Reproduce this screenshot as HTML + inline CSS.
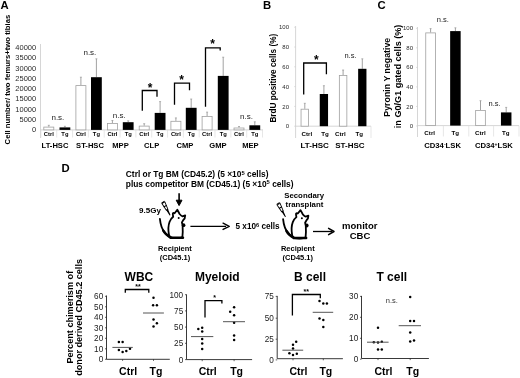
<!DOCTYPE html>
<html><head><meta charset="utf-8"><style>
html,body{margin:0;padding:0;background:#fff;}
body{width:520px;height:378px;overflow:hidden;}
svg{display:block;font-family:"Liberation Sans", sans-serif;filter:blur(0.3px);}
</style></head><body>
<svg width="520" height="378" viewBox="0 0 520 378" font-family='"Liberation Sans", sans-serif'>
<rect width="520" height="378" fill="#fff"/>
<text x="0.60" y="9.10" font-size="11.3" font-weight="bold" text-anchor="start" fill="#000" >A</text>
<text x="262.90" y="9.30" font-size="11.3" font-weight="bold" text-anchor="start" fill="#000" >B</text>
<text x="377.40" y="9.10" font-size="11.3" font-weight="bold" text-anchor="start" fill="#000" >C</text>
<text x="61.60" y="172.10" font-size="11.3" font-weight="bold" text-anchor="start" fill="#000" >D</text>
<line x1="40.50" y1="44.00" x2="40.50" y2="138.00" stroke="#cccccc" stroke-width="0.8"/>
<line x1="40.50" y1="129.90" x2="263.00" y2="129.90" stroke="#cccccc" stroke-width="0.8"/>
<text x="36.20" y="132.30" font-size="7.5" text-anchor="end" fill="#2a2a2a" >0</text>
<text x="36.20" y="122.01" font-size="7.5" text-anchor="end" fill="#2a2a2a" >5000</text>
<text x="36.20" y="111.72" font-size="7.5" text-anchor="end" fill="#2a2a2a" >10000</text>
<text x="36.20" y="101.43" font-size="7.5" text-anchor="end" fill="#2a2a2a" >15000</text>
<text x="36.20" y="91.14" font-size="7.5" text-anchor="end" fill="#2a2a2a" >20000</text>
<text x="36.20" y="80.85" font-size="7.5" text-anchor="end" fill="#2a2a2a" >25000</text>
<text x="36.20" y="70.56" font-size="7.5" text-anchor="end" fill="#2a2a2a" >30000</text>
<text x="36.20" y="60.27" font-size="7.5" text-anchor="end" fill="#2a2a2a" >35000</text>
<text x="36.20" y="49.98" font-size="7.5" text-anchor="end" fill="#2a2a2a" >40000</text>
<line x1="48.80" y1="125.30" x2="48.80" y2="126.70" stroke="#8a8a8a" stroke-width="0.8"/>
<line x1="47.80" y1="125.30" x2="49.80" y2="125.30" stroke="#8a8a8a" stroke-width="0.6"/>
<rect x="43.80" y="127.10" width="10.00" height="2.80" fill="#fff" stroke="#a0a0a0" stroke-width="0.8"/>
<line x1="64.90" y1="126.30" x2="64.90" y2="127.40" stroke="#8a8a8a" stroke-width="0.8"/>
<line x1="63.90" y1="126.30" x2="65.90" y2="126.30" stroke="#8a8a8a" stroke-width="0.6"/>
<rect x="59.50" y="127.40" width="10.80" height="2.50" fill="#000" stroke="none" stroke-width="1"/>
<line x1="80.90" y1="77.20" x2="80.90" y2="85.20" stroke="#8a8a8a" stroke-width="0.8"/>
<line x1="79.90" y1="77.20" x2="81.90" y2="77.20" stroke="#8a8a8a" stroke-width="0.6"/>
<rect x="75.90" y="85.60" width="10.00" height="44.30" fill="#fff" stroke="#a0a0a0" stroke-width="0.8"/>
<line x1="96.40" y1="58.80" x2="96.40" y2="77.20" stroke="#8a8a8a" stroke-width="0.8"/>
<line x1="95.40" y1="58.80" x2="97.40" y2="58.80" stroke="#8a8a8a" stroke-width="0.6"/>
<rect x="91.00" y="77.20" width="10.80" height="52.70" fill="#000" stroke="none" stroke-width="1"/>
<line x1="112.40" y1="120.50" x2="112.40" y2="123.10" stroke="#8a8a8a" stroke-width="0.8"/>
<line x1="111.40" y1="120.50" x2="113.40" y2="120.50" stroke="#8a8a8a" stroke-width="0.6"/>
<rect x="107.40" y="123.50" width="10.00" height="6.40" fill="#fff" stroke="#a0a0a0" stroke-width="0.8"/>
<line x1="128.20" y1="120.80" x2="128.20" y2="122.20" stroke="#8a8a8a" stroke-width="0.8"/>
<line x1="127.20" y1="120.80" x2="129.20" y2="120.80" stroke="#8a8a8a" stroke-width="0.6"/>
<rect x="122.80" y="122.20" width="10.80" height="7.70" fill="#000" stroke="none" stroke-width="1"/>
<line x1="144.20" y1="123.70" x2="144.20" y2="125.70" stroke="#8a8a8a" stroke-width="0.8"/>
<line x1="143.20" y1="123.70" x2="145.20" y2="123.70" stroke="#8a8a8a" stroke-width="0.6"/>
<rect x="139.20" y="126.10" width="10.00" height="3.80" fill="#fff" stroke="#a0a0a0" stroke-width="0.8"/>
<line x1="160.10" y1="101.60" x2="160.10" y2="112.90" stroke="#8a8a8a" stroke-width="0.8"/>
<line x1="159.10" y1="101.60" x2="161.10" y2="101.60" stroke="#8a8a8a" stroke-width="0.6"/>
<rect x="154.70" y="112.90" width="10.80" height="17.00" fill="#000" stroke="none" stroke-width="1"/>
<line x1="175.90" y1="117.90" x2="175.90" y2="120.90" stroke="#8a8a8a" stroke-width="0.8"/>
<line x1="174.90" y1="117.90" x2="176.90" y2="117.90" stroke="#8a8a8a" stroke-width="0.6"/>
<rect x="170.90" y="121.30" width="10.00" height="8.60" fill="#fff" stroke="#a0a0a0" stroke-width="0.8"/>
<line x1="191.20" y1="99.00" x2="191.20" y2="107.80" stroke="#8a8a8a" stroke-width="0.8"/>
<line x1="190.20" y1="99.00" x2="192.20" y2="99.00" stroke="#8a8a8a" stroke-width="0.6"/>
<rect x="185.80" y="107.80" width="10.80" height="22.10" fill="#000" stroke="none" stroke-width="1"/>
<line x1="207.10" y1="112.10" x2="207.10" y2="116.00" stroke="#8a8a8a" stroke-width="0.8"/>
<line x1="206.10" y1="112.10" x2="208.10" y2="112.10" stroke="#8a8a8a" stroke-width="0.6"/>
<rect x="202.10" y="116.40" width="10.00" height="13.50" fill="#fff" stroke="#a0a0a0" stroke-width="0.8"/>
<line x1="223.20" y1="57.20" x2="223.20" y2="75.90" stroke="#8a8a8a" stroke-width="0.8"/>
<line x1="222.20" y1="57.20" x2="224.20" y2="57.20" stroke="#8a8a8a" stroke-width="0.6"/>
<rect x="217.80" y="75.90" width="10.80" height="54.00" fill="#000" stroke="none" stroke-width="1"/>
<line x1="239.00" y1="126.50" x2="239.00" y2="127.60" stroke="#8a8a8a" stroke-width="0.8"/>
<line x1="238.00" y1="126.50" x2="240.00" y2="126.50" stroke="#8a8a8a" stroke-width="0.6"/>
<rect x="234.00" y="128.00" width="10.00" height="1.90" fill="#fff" stroke="#a0a0a0" stroke-width="0.8"/>
<line x1="254.80" y1="121.80" x2="254.80" y2="125.30" stroke="#8a8a8a" stroke-width="0.8"/>
<line x1="253.80" y1="121.80" x2="255.80" y2="121.80" stroke="#8a8a8a" stroke-width="0.6"/>
<rect x="249.40" y="125.30" width="10.80" height="4.60" fill="#000" stroke="none" stroke-width="1"/>
<line x1="40.90" y1="129.90" x2="40.90" y2="137.50" stroke="#dcdcdc" stroke-width="0.7"/>
<line x1="56.73" y1="129.90" x2="56.73" y2="137.50" stroke="#dcdcdc" stroke-width="0.7"/>
<line x1="72.56" y1="129.90" x2="72.56" y2="137.50" stroke="#dcdcdc" stroke-width="0.7"/>
<line x1="88.39" y1="129.90" x2="88.39" y2="137.50" stroke="#dcdcdc" stroke-width="0.7"/>
<line x1="104.22" y1="129.90" x2="104.22" y2="137.50" stroke="#dcdcdc" stroke-width="0.7"/>
<line x1="120.05" y1="129.90" x2="120.05" y2="137.50" stroke="#dcdcdc" stroke-width="0.7"/>
<line x1="135.88" y1="129.90" x2="135.88" y2="137.50" stroke="#dcdcdc" stroke-width="0.7"/>
<line x1="151.71" y1="129.90" x2="151.71" y2="137.50" stroke="#dcdcdc" stroke-width="0.7"/>
<line x1="167.54" y1="129.90" x2="167.54" y2="137.50" stroke="#dcdcdc" stroke-width="0.7"/>
<line x1="183.37" y1="129.90" x2="183.37" y2="137.50" stroke="#dcdcdc" stroke-width="0.7"/>
<line x1="199.20" y1="129.90" x2="199.20" y2="137.50" stroke="#dcdcdc" stroke-width="0.7"/>
<line x1="215.03" y1="129.90" x2="215.03" y2="137.50" stroke="#dcdcdc" stroke-width="0.7"/>
<line x1="230.86" y1="129.90" x2="230.86" y2="137.50" stroke="#dcdcdc" stroke-width="0.7"/>
<line x1="246.69" y1="129.90" x2="246.69" y2="137.50" stroke="#dcdcdc" stroke-width="0.7"/>
<line x1="262.52" y1="129.90" x2="262.52" y2="137.50" stroke="#dcdcdc" stroke-width="0.7"/>
<text x="48.80" y="136.30" font-size="5.8" font-weight="bold" text-anchor="middle" fill="#000" >Ctrl</text>
<text x="64.90" y="136.30" font-size="5.8" font-weight="bold" text-anchor="middle" fill="#000" >Tg</text>
<text x="80.90" y="136.30" font-size="5.8" font-weight="bold" text-anchor="middle" fill="#000" >Ctrl</text>
<text x="96.40" y="136.30" font-size="5.8" font-weight="bold" text-anchor="middle" fill="#000" >Tg</text>
<text x="112.40" y="136.30" font-size="5.8" font-weight="bold" text-anchor="middle" fill="#000" >Ctrl</text>
<text x="128.20" y="136.30" font-size="5.8" font-weight="bold" text-anchor="middle" fill="#000" >Tg</text>
<text x="144.20" y="136.30" font-size="5.8" font-weight="bold" text-anchor="middle" fill="#000" >Ctrl</text>
<text x="160.10" y="136.30" font-size="5.8" font-weight="bold" text-anchor="middle" fill="#000" >Tg</text>
<text x="175.90" y="136.30" font-size="5.8" font-weight="bold" text-anchor="middle" fill="#000" >Ctrl</text>
<text x="191.20" y="136.30" font-size="5.8" font-weight="bold" text-anchor="middle" fill="#000" >Tg</text>
<text x="207.10" y="136.30" font-size="5.8" font-weight="bold" text-anchor="middle" fill="#000" >Ctrl</text>
<text x="223.20" y="136.30" font-size="5.8" font-weight="bold" text-anchor="middle" fill="#000" >Tg</text>
<text x="239.00" y="136.30" font-size="5.8" font-weight="bold" text-anchor="middle" fill="#000" >Ctrl</text>
<text x="254.80" y="136.30" font-size="5.8" font-weight="bold" text-anchor="middle" fill="#000" >Tg</text>
<text x="55.00" y="147.90" font-size="7.6" font-weight="bold" text-anchor="middle" fill="#000" >LT-HSC</text>
<text x="90.00" y="147.90" font-size="7.6" font-weight="bold" text-anchor="middle" fill="#000" >ST-HSC</text>
<text x="120.50" y="147.90" font-size="7.6" font-weight="bold" text-anchor="middle" fill="#000" >MPP</text>
<text x="151.70" y="147.90" font-size="7.6" font-weight="bold" text-anchor="middle" fill="#000" >CLP</text>
<text x="185.00" y="147.90" font-size="7.6" font-weight="bold" text-anchor="middle" fill="#000" >CMP</text>
<text x="217.90" y="147.90" font-size="7.6" font-weight="bold" text-anchor="middle" fill="#000" >GMP</text>
<text x="250.40" y="147.90" font-size="7.6" font-weight="bold" text-anchor="middle" fill="#000" >MEP</text>
<text x="57.90" y="119.60" font-size="8" text-anchor="middle" fill="#222" >n.s.</text>
<text x="89.90" y="55.30" font-size="8" text-anchor="middle" fill="#222" >n.s.</text>
<text x="119.20" y="117.60" font-size="8" text-anchor="middle" fill="#222" >n.s.</text>
<text x="246.50" y="119.20" font-size="8" text-anchor="middle" fill="#222" >n.s.</text>
<path d="M142.3,110.8 L142.3,90.5 L157.0,90.5 L157.0,96.8" stroke="#000" stroke-width="1.3" fill="none" />
<path d="M174.5,104.8 L174.5,83.2 L189.5,83.2 L189.5,90.3" stroke="#000" stroke-width="1.3" fill="none" />
<path d="M205.5,106.8 L205.5,47.8 L220.2,47.8 L220.2,50.4" stroke="#000" stroke-width="1.3" fill="none" />
<text x="150.00" y="92.40" font-size="12" font-weight="bold" text-anchor="middle" fill="#000" >*</text>
<text x="181.50" y="84.40" font-size="12" font-weight="bold" text-anchor="middle" fill="#000" >*</text>
<text x="212.50" y="47.80" font-size="12" font-weight="bold" text-anchor="middle" fill="#000" >*</text>
<text transform="translate(10.3,79.6) rotate(-90)" font-size="7.7" font-weight="bold" text-anchor="middle" fill="#000">Cell number/ two femurs+two tibias</text>
<line x1="295.60" y1="26.00" x2="295.60" y2="138.00" stroke="#cccccc" stroke-width="0.8"/>
<line x1="295.60" y1="126.20" x2="371.00" y2="126.20" stroke="#cccccc" stroke-width="0.8"/>
<line x1="371.00" y1="126.20" x2="371.00" y2="138.00" stroke="#dcdcdc" stroke-width="0.7"/>
<text x="289.00" y="128.30" font-size="6.0" text-anchor="end" fill="#2a2a2a" >0</text>
<line x1="294.10" y1="126.20" x2="295.60" y2="126.20" stroke="#cccccc" stroke-width="0.6"/>
<text x="289.00" y="108.50" font-size="6.0" text-anchor="end" fill="#2a2a2a" >20</text>
<line x1="294.10" y1="106.40" x2="295.60" y2="106.40" stroke="#cccccc" stroke-width="0.6"/>
<text x="289.00" y="88.70" font-size="6.0" text-anchor="end" fill="#2a2a2a" >40</text>
<line x1="294.10" y1="86.60" x2="295.60" y2="86.60" stroke="#cccccc" stroke-width="0.6"/>
<text x="289.00" y="68.90" font-size="6.0" text-anchor="end" fill="#2a2a2a" >60</text>
<line x1="294.10" y1="66.80" x2="295.60" y2="66.80" stroke="#cccccc" stroke-width="0.6"/>
<text x="289.00" y="49.10" font-size="6.0" text-anchor="end" fill="#2a2a2a" >80</text>
<line x1="294.10" y1="47.00" x2="295.60" y2="47.00" stroke="#cccccc" stroke-width="0.6"/>
<text x="289.00" y="29.30" font-size="6.0" text-anchor="end" fill="#2a2a2a" >100</text>
<line x1="294.10" y1="27.20" x2="295.60" y2="27.20" stroke="#cccccc" stroke-width="0.6"/>
<line x1="304.80" y1="103.30" x2="304.80" y2="108.80" stroke="#8a8a8a" stroke-width="0.8"/>
<line x1="303.80" y1="103.30" x2="305.80" y2="103.30" stroke="#8a8a8a" stroke-width="0.6"/>
<rect x="301.05" y="109.20" width="7.50" height="17.00" fill="#fff" stroke="#a0a0a0" stroke-width="0.8"/>
<line x1="323.90" y1="85.70" x2="323.90" y2="94.00" stroke="#8a8a8a" stroke-width="0.8"/>
<line x1="322.90" y1="85.70" x2="324.90" y2="85.70" stroke="#8a8a8a" stroke-width="0.6"/>
<rect x="319.75" y="94.00" width="8.30" height="32.20" fill="#000" stroke="none" stroke-width="1"/>
<line x1="343.10" y1="70.00" x2="343.10" y2="75.00" stroke="#8a8a8a" stroke-width="0.8"/>
<line x1="342.10" y1="70.00" x2="344.10" y2="70.00" stroke="#8a8a8a" stroke-width="0.6"/>
<rect x="339.35" y="75.40" width="7.50" height="50.80" fill="#fff" stroke="#a0a0a0" stroke-width="0.8"/>
<line x1="362.30" y1="58.80" x2="362.30" y2="68.80" stroke="#8a8a8a" stroke-width="0.8"/>
<line x1="361.30" y1="58.80" x2="363.30" y2="58.80" stroke="#8a8a8a" stroke-width="0.6"/>
<rect x="358.15" y="68.80" width="8.30" height="57.40" fill="#000" stroke="none" stroke-width="1"/>
<text x="306.80" y="136.10" font-size="6.2" font-weight="bold" text-anchor="middle" fill="#000" >Ctrl</text>
<text x="325.10" y="136.10" font-size="6.2" font-weight="bold" text-anchor="middle" fill="#000" >Tg</text>
<text x="340.30" y="136.10" font-size="6.2" font-weight="bold" text-anchor="middle" fill="#000" >Ctrl</text>
<text x="359.30" y="136.10" font-size="6.2" font-weight="bold" text-anchor="middle" fill="#000" >Tg</text>
<text x="314.70" y="147.70" font-size="8.0" font-weight="bold" text-anchor="middle" fill="#000" >LT-HSC</text>
<text x="349.90" y="147.70" font-size="8.0" font-weight="bold" text-anchor="middle" fill="#000" >ST-HSC</text>
<path d="M303.7,94.5 L303.7,63 L326.4,63 L326.4,74.3" stroke="#000" stroke-width="1.3" fill="none" />
<text x="316.40" y="63.50" font-size="12" font-weight="bold" text-anchor="middle" fill="#000" >*</text>
<text x="350.50" y="58.20" font-size="7.5" text-anchor="middle" fill="#222" >n.s.</text>
<text transform="translate(275.6,78.2) rotate(-90)" font-size="8.2" font-weight="bold" text-anchor="middle" fill="#000">BrdU positive cells (%)</text>
<line x1="417.50" y1="27.00" x2="417.50" y2="137.00" stroke="#cccccc" stroke-width="0.8"/>
<line x1="417.50" y1="125.60" x2="519.00" y2="125.60" stroke="#cccccc" stroke-width="0.8"/>
<line x1="443.40" y1="125.60" x2="443.40" y2="136.50" stroke="#dcdcdc" stroke-width="0.7"/>
<line x1="468.80" y1="125.60" x2="468.80" y2="136.50" stroke="#dcdcdc" stroke-width="0.7"/>
<line x1="493.60" y1="125.60" x2="493.60" y2="136.50" stroke="#dcdcdc" stroke-width="0.7"/>
<line x1="519.00" y1="125.60" x2="519.00" y2="136.50" stroke="#dcdcdc" stroke-width="0.7"/>
<text x="413.00" y="128.10" font-size="6.0" text-anchor="end" fill="#2a2a2a" >0</text>
<line x1="416.00" y1="126.00" x2="417.50" y2="126.00" stroke="#cccccc" stroke-width="0.6"/>
<text x="413.00" y="108.56" font-size="6.0" text-anchor="end" fill="#2a2a2a" >20</text>
<line x1="416.00" y1="106.46" x2="417.50" y2="106.46" stroke="#cccccc" stroke-width="0.6"/>
<text x="413.00" y="89.02" font-size="6.0" text-anchor="end" fill="#2a2a2a" >40</text>
<line x1="416.00" y1="86.92" x2="417.50" y2="86.92" stroke="#cccccc" stroke-width="0.6"/>
<text x="413.00" y="69.48" font-size="6.0" text-anchor="end" fill="#2a2a2a" >60</text>
<line x1="416.00" y1="67.38" x2="417.50" y2="67.38" stroke="#cccccc" stroke-width="0.6"/>
<text x="413.00" y="49.94" font-size="6.0" text-anchor="end" fill="#2a2a2a" >80</text>
<line x1="416.00" y1="47.84" x2="417.50" y2="47.84" stroke="#cccccc" stroke-width="0.6"/>
<text x="413.00" y="30.40" font-size="6.0" text-anchor="end" fill="#2a2a2a" >100</text>
<line x1="416.00" y1="28.30" x2="417.50" y2="28.30" stroke="#cccccc" stroke-width="0.6"/>
<line x1="430.60" y1="28.60" x2="430.60" y2="32.50" stroke="#8a8a8a" stroke-width="0.8"/>
<line x1="429.60" y1="28.60" x2="431.60" y2="28.60" stroke="#8a8a8a" stroke-width="0.6"/>
<rect x="425.75" y="32.90" width="9.70" height="92.70" fill="#fff" stroke="#a0a0a0" stroke-width="0.8"/>
<line x1="455.40" y1="27.80" x2="455.40" y2="31.10" stroke="#8a8a8a" stroke-width="0.8"/>
<line x1="454.40" y1="27.80" x2="456.40" y2="27.80" stroke="#8a8a8a" stroke-width="0.6"/>
<rect x="450.15" y="31.10" width="10.50" height="94.50" fill="#000" stroke="none" stroke-width="1"/>
<line x1="480.50" y1="100.70" x2="480.50" y2="110.00" stroke="#8a8a8a" stroke-width="0.8"/>
<line x1="479.50" y1="100.70" x2="481.50" y2="100.70" stroke="#8a8a8a" stroke-width="0.6"/>
<rect x="475.65" y="110.40" width="9.70" height="15.20" fill="#fff" stroke="#a0a0a0" stroke-width="0.8"/>
<line x1="506.20" y1="107.40" x2="506.20" y2="112.40" stroke="#8a8a8a" stroke-width="0.8"/>
<line x1="505.20" y1="107.40" x2="507.20" y2="107.40" stroke="#8a8a8a" stroke-width="0.6"/>
<rect x="500.95" y="112.40" width="10.50" height="13.20" fill="#000" stroke="none" stroke-width="1"/>
<text x="429.70" y="135.20" font-size="6.2" font-weight="bold" text-anchor="middle" fill="#000" >Ctrl</text>
<text x="455.20" y="135.20" font-size="6.2" font-weight="bold" text-anchor="middle" fill="#000" >Tg</text>
<text x="480.40" y="135.20" font-size="6.2" font-weight="bold" text-anchor="middle" fill="#000" >Ctrl</text>
<text x="505.70" y="135.20" font-size="6.2" font-weight="bold" text-anchor="middle" fill="#000" >Tg</text>
<text x="442.60" y="148.40" font-size="7.7" font-weight="bold" text-anchor="middle" fill="#000" >CD34<tspan font-size="5" dy="-2.2">-</tspan><tspan dy="2.2">LSK</tspan></text>
<text x="493.90" y="148.40" font-size="7.7" font-weight="bold" text-anchor="middle" fill="#000" >CD34<tspan font-size="5" dy="-2.2">+</tspan><tspan dy="2.2">LSK</tspan></text>
<text x="442.90" y="22.20" font-size="7.5" text-anchor="middle" fill="#222" >n.s.</text>
<text x="494.60" y="105.60" font-size="7.5" text-anchor="middle" fill="#222" >n.s.</text>
<text transform="translate(390.3,77.2) rotate(-90)" font-size="8.8" font-weight="bold" text-anchor="middle" fill="#000">Pyronin Y negative</text>
<text transform="translate(401.2,76.4) rotate(-90)" font-size="9.1" font-weight="bold" text-anchor="middle" fill="#000">in G0/G1 gated cells (%)</text>
<text x="125.80" y="177.30" font-size="8.4" font-weight="bold" text-anchor="start" fill="#000" >Ctrl or Tg BM (CD45.2) (5 ×10<tspan font-size="5.8" dy="-2.6">5</tspan><tspan dy="2.6"> cells)</tspan></text>
<text x="125.80" y="186.90" font-size="8.4" font-weight="bold" text-anchor="start" fill="#000" >plus competitor BM (CD45.1) (5 ×10<tspan font-size="5.8" dy="-2.6">5</tspan><tspan dy="2.6"> cells)</tspan></text>
<text x="150.00" y="212.60" font-size="8" font-weight="bold" text-anchor="middle" fill="#000" >9.5Gy</text>
<text x="304.20" y="197.90" font-size="7.8" font-weight="bold" text-anchor="middle" fill="#000" >Secondary</text>
<text x="304.40" y="206.60" font-size="7.8" font-weight="bold" text-anchor="middle" fill="#000" >transplant</text>
<text x="257.60" y="229.10" font-size="8.2" font-weight="bold" text-anchor="middle" fill="#000" >5 x10<tspan font-size="5.6" dy="-2.4">6</tspan><tspan dy="2.4"> cells</tspan></text>
<text x="359.80" y="229.00" font-size="9.5" font-weight="bold" text-anchor="middle" fill="#000" >monitor</text>
<text x="360.00" y="238.80" font-size="9.5" font-weight="bold" text-anchor="middle" fill="#000" >CBC</text>
<text x="175.00" y="250.90" font-size="7.5" font-weight="bold" text-anchor="middle" fill="#000" >Recipient</text>
<text x="175.00" y="259.60" font-size="7.5" font-weight="bold" text-anchor="middle" fill="#000" >(CD45.1)</text>
<text x="297.80" y="250.90" font-size="7.5" font-weight="bold" text-anchor="middle" fill="#000" >Recipient</text>
<text x="297.80" y="259.60" font-size="7.5" font-weight="bold" text-anchor="middle" fill="#000" >(CD45.1)</text>
<path d="M179.1,193.3 L179.1,202" stroke="#000" stroke-width="1.6" fill="none" />
<path d="M176.2,200.2 L179.1,205.6 L182,200.2 Z" stroke="#000" stroke-width="1.0" fill="#000" stroke-linejoin="round"/>
<path d="M190.4,226.3 L226,226.3" stroke="#000" stroke-width="1.3" fill="none" />
<path d="M223.1,223.2 L229.2,226.3 L223.1,229.4" stroke="#000" stroke-width="1.5" fill="none" stroke-linejoin="round" stroke-linecap="round"/>
<path d="M313,231.5 L332,231.5" stroke="#000" stroke-width="1.3" fill="none" />
<path d="M328.6,228.4 L334,231.5 L328.6,234.6" stroke="#000" stroke-width="1.5" fill="none" stroke-linejoin="round" stroke-linecap="round"/>
<g transform="translate(0,0)" fill="none" stroke="#000" stroke-linecap="round" stroke-linejoin="round">
<path d="M159.9,218.9 C160.4,224 162,229.5 165,232.8 C166.5,234.5 168.3,236 170.5,237.4" stroke-width="1.8"/>
<path d="M163.2,230.5 C164.5,233 166.5,235.2 170.5,237.6" stroke-width="2.5"/>
<path d="M182.4,236.8 C181.5,238.2 177,238.3 173.5,238.1 C170.8,237.9 169.3,236.6 168.9,234.5 C168.2,230.5 168.2,225.5 169.6,221.8 C170.4,219.6 171.6,218 173.2,216.8 L172.8,214.2 C172.6,213 173.6,212.4 174.6,213.2 L177.3,209.8 L179.6,214.0 C180.6,215.2 181.6,216.2 182.5,216.4 L185.2,215.4 C185.2,217.4 184.5,219 183.3,220 L181.9,222.4 C182.1,223.5 182.4,224.5 182.6,225.5 C182.8,229 182.9,233 182.4,236.8 Z" stroke-width="1.8"/>
<ellipse cx="183.6" cy="225.2" rx="1.8" ry="1.9" fill="#000" stroke="none"/>
<circle cx="178.7" cy="218" r="1.0" fill="#000" stroke="none"/>
<path d="M171,237.7 L183,237.7" stroke-width="2.4"/>
</g>
<g transform="translate(123.2,0.3)" fill="none" stroke="#000" stroke-linecap="round" stroke-linejoin="round">
<path d="M159.9,218.9 C160.4,224 162,229.5 165,232.8 C166.5,234.5 168.3,236 170.5,237.4" stroke-width="1.8"/>
<path d="M163.2,230.5 C164.5,233 166.5,235.2 170.5,237.6" stroke-width="2.5"/>
<path d="M182.4,236.8 C181.5,238.2 177,238.3 173.5,238.1 C170.8,237.9 169.3,236.6 168.9,234.5 C168.2,230.5 168.2,225.5 169.6,221.8 C170.4,219.6 171.6,218 173.2,216.8 L172.8,214.2 C172.6,213 173.6,212.4 174.6,213.2 L177.3,209.8 L179.6,214.0 C180.6,215.2 181.6,216.2 182.5,216.4 L185.2,215.4 C185.2,217.4 184.5,219 183.3,220 L181.9,222.4 C182.1,223.5 182.4,224.5 182.6,225.5 C182.8,229 182.9,233 182.4,236.8 Z" stroke-width="1.8"/>
<ellipse cx="183.6" cy="225.2" rx="1.8" ry="1.9" fill="#000" stroke="none"/>
<circle cx="178.7" cy="218" r="1.0" fill="#000" stroke="none"/>
<path d="M171,237.7 L183,237.7" stroke-width="2.4"/>
</g>
<g transform="translate(163.0,202.0) rotate(61.86)" fill="none" stroke="#000" stroke-width="0.9" stroke-linecap="round" stroke-linejoin="round">
<path d="M0,-1.4 L0.2,1.4 M0.1,0 L0.8,0"/>
<path d="M0.8,-1.7 L8.78,-0.9 L8.78,0.9 L0.8,1.7 Z" fill="#fff"/>
<path d="M4.68,-1.3 L4.68,1.3"/>
<path d="M8.78,-0.5 L14.63,0 L8.78,0.5" stroke-width="1.0" fill="#000"/>
</g>
<g transform="translate(278.2,203.4) rotate(61.73)" fill="none" stroke="#000" stroke-width="0.9" stroke-linecap="round" stroke-linejoin="round">
<path d="M0,-1.4 L0.2,1.4 M0.1,0 L0.8,0"/>
<path d="M0.8,-1.7 L8.99,-0.9 L8.99,0.9 L0.8,1.7 Z" fill="#fff"/>
<path d="M4.80,-1.3 L4.80,1.3"/>
<path d="M8.99,-0.5 L14.99,0 L8.99,0.5" stroke-width="1.0" fill="#000"/>
</g>
<line x1="106.50" y1="295.50" x2="106.50" y2="359.30" stroke="#222" stroke-width="0.9"/>
<line x1="106.50" y1="359.30" x2="169.80" y2="359.30" stroke="#222" stroke-width="0.9"/>
<text x="103.20" y="362.25" font-size="8.2" text-anchor="end" fill="#1a1a1a" >0</text>
<line x1="105.00" y1="359.30" x2="106.50" y2="359.30" stroke="#222" stroke-width="0.7"/>
<text x="103.20" y="351.75" font-size="8.2" text-anchor="end" fill="#1a1a1a" >10</text>
<line x1="105.00" y1="348.80" x2="106.50" y2="348.80" stroke="#222" stroke-width="0.7"/>
<text x="103.20" y="341.25" font-size="8.2" text-anchor="end" fill="#1a1a1a" >20</text>
<line x1="105.00" y1="338.30" x2="106.50" y2="338.30" stroke="#222" stroke-width="0.7"/>
<text x="103.20" y="330.75" font-size="8.2" text-anchor="end" fill="#1a1a1a" >30</text>
<line x1="105.00" y1="327.80" x2="106.50" y2="327.80" stroke="#222" stroke-width="0.7"/>
<text x="103.20" y="320.25" font-size="8.2" text-anchor="end" fill="#1a1a1a" >40</text>
<line x1="105.00" y1="317.30" x2="106.50" y2="317.30" stroke="#222" stroke-width="0.7"/>
<text x="103.20" y="309.75" font-size="8.2" text-anchor="end" fill="#1a1a1a" >50</text>
<line x1="105.00" y1="306.80" x2="106.50" y2="306.80" stroke="#222" stroke-width="0.7"/>
<text x="103.20" y="299.25" font-size="8.2" text-anchor="end" fill="#1a1a1a" >60</text>
<line x1="105.00" y1="296.30" x2="106.50" y2="296.30" stroke="#222" stroke-width="0.7"/>
<text x="138.90" y="281.40" font-size="12" font-weight="bold" text-anchor="middle" fill="#000" >WBC</text>
<circle cx="118.90" cy="341.90" r="1.25" fill="#000"/>
<circle cx="122.60" cy="341.90" r="1.25" fill="#000"/>
<circle cx="118.90" cy="350.00" r="1.25" fill="#000"/>
<circle cx="122.60" cy="352.00" r="1.25" fill="#000"/>
<circle cx="126.30" cy="351.10" r="1.25" fill="#000"/>
<circle cx="130.00" cy="348.70" r="1.25" fill="#000"/>
<circle cx="153.50" cy="297.80" r="1.25" fill="#000"/>
<circle cx="153.10" cy="305.20" r="1.25" fill="#000"/>
<circle cx="156.90" cy="305.20" r="1.25" fill="#000"/>
<circle cx="153.50" cy="319.60" r="1.25" fill="#000"/>
<circle cx="156.90" cy="323.30" r="1.25" fill="#000"/>
<circle cx="153.50" cy="326.50" r="1.25" fill="#000"/>
<line x1="112.40" y1="347.40" x2="132.80" y2="347.40" stroke="#555" stroke-width="1.0"/>
<line x1="143.00" y1="313.00" x2="163.90" y2="313.00" stroke="#555" stroke-width="1.0"/>
<line x1="122.60" y1="359.30" x2="122.60" y2="360.90" stroke="#222" stroke-width="0.7"/>
<line x1="153.50" y1="359.30" x2="153.50" y2="360.90" stroke="#222" stroke-width="0.7"/>
<path d="M125.3,292.8 L125.3,289.5 L148.8,289.5 L148.8,292.8" stroke="#000" stroke-width="1.3" fill="none" />
<text x="137.90" y="288.80" font-size="7" font-weight="bold" text-anchor="middle" fill="#000" >**</text>
<text x="128.10" y="375.00" font-size="10.5" font-weight="bold" text-anchor="middle" fill="#000" >Ctrl</text>
<text x="156.00" y="375.00" font-size="10.5" font-weight="bold" text-anchor="middle" fill="#000" >Tg</text>
<line x1="186.50" y1="294.40" x2="186.50" y2="359.60" stroke="#222" stroke-width="0.9"/>
<line x1="186.50" y1="359.60" x2="252.10" y2="359.60" stroke="#222" stroke-width="0.9"/>
<text x="183.20" y="362.55" font-size="8.2" text-anchor="end" fill="#1a1a1a" >0</text>
<line x1="185.00" y1="359.60" x2="186.50" y2="359.60" stroke="#222" stroke-width="0.7"/>
<text x="183.20" y="346.25" font-size="8.2" text-anchor="end" fill="#1a1a1a" >25</text>
<line x1="185.00" y1="343.30" x2="186.50" y2="343.30" stroke="#222" stroke-width="0.7"/>
<text x="183.20" y="330.05" font-size="8.2" text-anchor="end" fill="#1a1a1a" >50</text>
<line x1="185.00" y1="327.10" x2="186.50" y2="327.10" stroke="#222" stroke-width="0.7"/>
<text x="183.20" y="313.85" font-size="8.2" text-anchor="end" fill="#1a1a1a" >75</text>
<line x1="185.00" y1="310.90" x2="186.50" y2="310.90" stroke="#222" stroke-width="0.7"/>
<text x="183.20" y="297.65" font-size="8.2" text-anchor="end" fill="#1a1a1a" >100</text>
<line x1="185.00" y1="294.70" x2="186.50" y2="294.70" stroke="#222" stroke-width="0.7"/>
<text x="217.30" y="281.40" font-size="12" font-weight="bold" text-anchor="middle" fill="#000" >Myeloid</text>
<circle cx="198.30" cy="329.00" r="1.25" fill="#000"/>
<circle cx="202.20" cy="327.70" r="1.25" fill="#000"/>
<circle cx="202.20" cy="331.60" r="1.25" fill="#000"/>
<circle cx="202.20" cy="339.10" r="1.25" fill="#000"/>
<circle cx="202.20" cy="343.50" r="1.25" fill="#000"/>
<circle cx="202.20" cy="349.00" r="1.25" fill="#000"/>
<circle cx="234.10" cy="307.20" r="1.25" fill="#000"/>
<circle cx="230.20" cy="311.80" r="1.25" fill="#000"/>
<circle cx="234.10" cy="315.20" r="1.25" fill="#000"/>
<circle cx="234.10" cy="322.70" r="1.25" fill="#000"/>
<circle cx="234.10" cy="335.60" r="1.25" fill="#000"/>
<circle cx="234.10" cy="339.90" r="1.25" fill="#000"/>
<line x1="191.00" y1="336.60" x2="213.30" y2="336.60" stroke="#555" stroke-width="1.0"/>
<line x1="223.00" y1="321.70" x2="245.00" y2="321.70" stroke="#555" stroke-width="1.0"/>
<line x1="202.20" y1="359.60" x2="202.20" y2="361.20" stroke="#222" stroke-width="0.7"/>
<line x1="234.10" y1="359.60" x2="234.10" y2="361.20" stroke="#222" stroke-width="0.7"/>
<path d="M205.0,317.6 L205.0,300.7 L221.9,300.7 L221.9,303.6" stroke="#000" stroke-width="1.3" fill="none" />
<text x="214.70" y="299.80" font-size="7" font-weight="bold" text-anchor="middle" fill="#000" >*</text>
<text x="207.70" y="375.00" font-size="10.5" font-weight="bold" text-anchor="middle" fill="#000" >Ctrl</text>
<text x="236.60" y="375.00" font-size="10.5" font-weight="bold" text-anchor="middle" fill="#000" >Tg</text>
<line x1="277.20" y1="295.90" x2="277.20" y2="358.70" stroke="#222" stroke-width="0.9"/>
<line x1="277.20" y1="358.70" x2="342.90" y2="358.70" stroke="#222" stroke-width="0.9"/>
<text x="273.90" y="362.85" font-size="8.2" text-anchor="end" fill="#1a1a1a" >0</text>
<line x1="275.70" y1="359.90" x2="277.20" y2="359.90" stroke="#222" stroke-width="0.7"/>
<text x="273.90" y="342.15" font-size="8.2" text-anchor="end" fill="#1a1a1a" >25</text>
<line x1="275.70" y1="339.20" x2="277.20" y2="339.20" stroke="#222" stroke-width="0.7"/>
<text x="273.90" y="321.15" font-size="8.2" text-anchor="end" fill="#1a1a1a" >50</text>
<line x1="275.70" y1="318.20" x2="277.20" y2="318.20" stroke="#222" stroke-width="0.7"/>
<text x="273.90" y="299.35" font-size="8.2" text-anchor="end" fill="#1a1a1a" >75</text>
<line x1="275.70" y1="296.40" x2="277.20" y2="296.40" stroke="#222" stroke-width="0.7"/>
<text x="310.00" y="281.40" font-size="12" font-weight="bold" text-anchor="middle" fill="#000" >B cell</text>
<circle cx="296.20" cy="341.70" r="1.25" fill="#000"/>
<circle cx="293.00" cy="344.70" r="1.25" fill="#000"/>
<circle cx="293.00" cy="348.50" r="1.25" fill="#000"/>
<circle cx="289.40" cy="353.20" r="1.25" fill="#000"/>
<circle cx="293.00" cy="354.90" r="1.25" fill="#000"/>
<circle cx="296.80" cy="353.80" r="1.25" fill="#000"/>
<circle cx="319.50" cy="300.90" r="1.25" fill="#000"/>
<circle cx="323.30" cy="303.60" r="1.25" fill="#000"/>
<circle cx="326.90" cy="303.60" r="1.25" fill="#000"/>
<circle cx="319.50" cy="318.50" r="1.25" fill="#000"/>
<circle cx="323.30" cy="319.90" r="1.25" fill="#000"/>
<circle cx="323.30" cy="326.90" r="1.25" fill="#000"/>
<line x1="282.40" y1="350.20" x2="303.20" y2="350.20" stroke="#555" stroke-width="1.0"/>
<line x1="312.70" y1="312.30" x2="333.20" y2="312.30" stroke="#555" stroke-width="1.0"/>
<line x1="293.00" y1="358.70" x2="293.00" y2="360.30" stroke="#222" stroke-width="0.7"/>
<line x1="323.30" y1="358.70" x2="323.30" y2="360.30" stroke="#222" stroke-width="0.7"/>
<path d="M292.4,315.5 L292.4,294.5 L320.3,294.5 L320.3,298.2" stroke="#000" stroke-width="1.3" fill="none" />
<text x="306.20" y="293.90" font-size="7" font-weight="bold" text-anchor="middle" fill="#000" >**</text>
<text x="298.50" y="375.00" font-size="10.5" font-weight="bold" text-anchor="middle" fill="#000" >Ctrl</text>
<text x="325.80" y="375.00" font-size="10.5" font-weight="bold" text-anchor="middle" fill="#000" >Tg</text>
<line x1="361.50" y1="295.90" x2="361.50" y2="358.50" stroke="#222" stroke-width="0.9"/>
<line x1="361.50" y1="358.50" x2="428.90" y2="358.50" stroke="#222" stroke-width="0.9"/>
<text x="358.20" y="362.15" font-size="8.2" text-anchor="end" fill="#1a1a1a" >0</text>
<line x1="360.00" y1="359.20" x2="361.50" y2="359.20" stroke="#222" stroke-width="0.7"/>
<text x="358.20" y="341.25" font-size="8.2" text-anchor="end" fill="#1a1a1a" >10</text>
<line x1="360.00" y1="338.30" x2="361.50" y2="338.30" stroke="#222" stroke-width="0.7"/>
<text x="358.20" y="320.25" font-size="8.2" text-anchor="end" fill="#1a1a1a" >20</text>
<line x1="360.00" y1="317.30" x2="361.50" y2="317.30" stroke="#222" stroke-width="0.7"/>
<text x="358.20" y="299.35" font-size="8.2" text-anchor="end" fill="#1a1a1a" >30</text>
<line x1="360.00" y1="296.40" x2="361.50" y2="296.40" stroke="#222" stroke-width="0.7"/>
<text x="391.80" y="281.40" font-size="12" font-weight="bold" text-anchor="middle" fill="#000" >T cell</text>
<circle cx="378.00" cy="327.80" r="1.25" fill="#000"/>
<circle cx="373.80" cy="342.20" r="1.25" fill="#000"/>
<circle cx="378.00" cy="342.60" r="1.25" fill="#000"/>
<circle cx="381.80" cy="341.70" r="1.25" fill="#000"/>
<circle cx="378.00" cy="349.60" r="1.25" fill="#000"/>
<circle cx="381.80" cy="349.60" r="1.25" fill="#000"/>
<circle cx="410.20" cy="297.10" r="1.25" fill="#000"/>
<circle cx="410.20" cy="321.00" r="1.25" fill="#000"/>
<circle cx="414.00" cy="321.00" r="1.25" fill="#000"/>
<circle cx="410.20" cy="332.60" r="1.25" fill="#000"/>
<circle cx="410.20" cy="341.50" r="1.25" fill="#000"/>
<circle cx="414.00" cy="340.50" r="1.25" fill="#000"/>
<line x1="367.00" y1="342.20" x2="388.60" y2="342.20" stroke="#555" stroke-width="1.0"/>
<line x1="398.70" y1="325.70" x2="421.00" y2="325.70" stroke="#555" stroke-width="1.0"/>
<line x1="378.00" y1="358.50" x2="378.00" y2="360.10" stroke="#222" stroke-width="0.7"/>
<line x1="410.20" y1="358.50" x2="410.20" y2="360.10" stroke="#222" stroke-width="0.7"/>
<text x="391.80" y="303.20" font-size="7.5" text-anchor="middle" fill="#333" >n.s.</text>
<text x="383.50" y="375.00" font-size="10.5" font-weight="bold" text-anchor="middle" fill="#000" >Ctrl</text>
<text x="412.70" y="375.00" font-size="10.5" font-weight="bold" text-anchor="middle" fill="#000" >Tg</text>
<text transform="translate(72.8,317.2) rotate(-90)" font-size="9.15" font-weight="bold" text-anchor="middle" fill="#000">Percent chimerism of</text>
<text transform="translate(82.1,317.4) rotate(-90)" font-size="9.1" font-weight="bold" text-anchor="middle" fill="#000">donor derived CD45.2 cells</text>
</svg>
</body></html>
